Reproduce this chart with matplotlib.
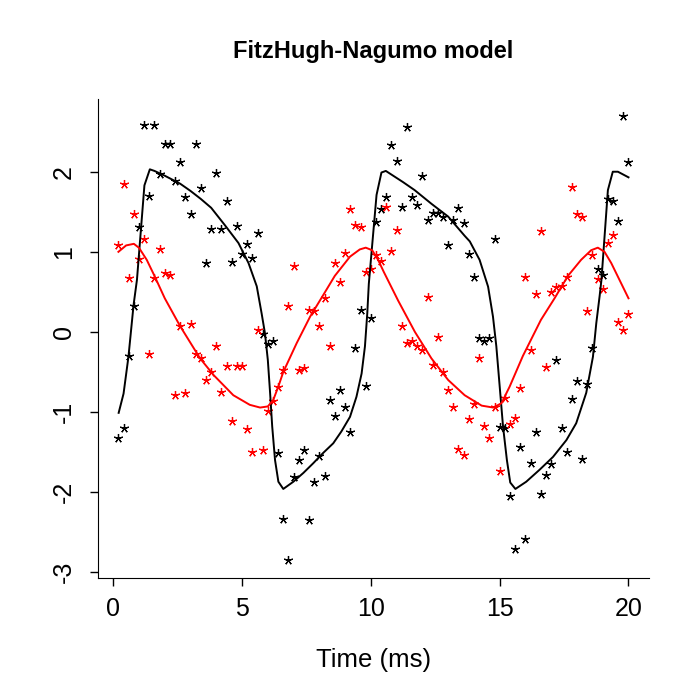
import numpy as np
import matplotlib
matplotlib.use("Agg")
import matplotlib.pyplot as plt

plt.rcParams['font.family'] = ['Liberation Sans', 'DejaVu Sans']
plt.rcParams['axes.unicode_minus'] = False

# observation times (ms)
t_obs = np.round(np.linspace(0.2, 20.0, 100), 1)

# noisy observations of V (black) and R (red)
V_obs = [-1.33, -1.20, -0.30, 0.33, 1.31, 2.58, 1.70, 2.58, 1.97, 2.35,
         2.35, 1.89, 2.12, 1.68, 1.47, 2.34, 1.80, 0.86, 1.29, 1.98,
         1.28, 1.64, 0.87, 1.32, 0.97, 1.10, 0.92, 1.24, -0.02, -0.15,
         -0.11, -1.51, -2.34, -2.85, -1.81, -1.60, -1.47, -2.35, -1.87, -1.55,
         -1.80, -0.85, -1.05, -0.72, -0.94, -1.25, -0.20, 0.28, -0.67, 0.18,
         1.37, 1.53, 1.68, 2.33, 2.13, 1.56, 2.56, 1.69, 1.59, 1.95,
         1.40, 1.49, 1.49, 1.44, 1.08, 1.40, 1.55, 1.36, 0.97, 0.68,
         -0.07, -0.11, -0.08, 1.16, -1.19, -1.20, -2.05, -2.71, -1.44, -2.59,
         -1.63, -1.25, -2.02, -1.78, -1.65, -0.35, -1.20, -1.50, -0.84, -0.61,
         -1.58, -0.65, -0.20, 0.78, 0.71, 1.66, 1.63, 1.39, 2.69, 2.12]

R_obs = [1.09, 1.85, 0.67, 1.47, 0.91, 1.16, -0.28, 0.67, 1.04, 0.74,
         0.71, -0.79, 0.07, -0.76, 0.10, -0.27, -0.33, -0.60, -0.50, -0.18,
         -0.75, -0.42, -1.11, -0.43, -0.42, -1.21, -1.50, 0.03, -1.48, -0.99,
         -0.86, -0.69, -0.47, 0.32, 0.82, -0.48, -0.45, 0.28, 0.26, 0.08,
         0.42, -0.18, 0.86, 0.62, 0.99, 1.53, 1.33, 1.31, 0.75, 0.78,
         0.96, 0.89, 1.56, 1.01, 1.27, 0.07, -0.14, -0.11, -0.17, -0.22,
         0.44, -0.41, -0.06, -0.50, -0.73, -0.94, -1.46, -1.54, -1.09, -0.90,
         -0.32, -1.18, -1.33, -0.94, -1.73, -0.83, -1.15, -1.08, -0.70, 0.69,
         -0.23, 0.47, 1.26, -0.44, 0.50, 0.56, 0.57, 0.68, 1.81, 1.47,
         1.43, 0.26, 0.96, 0.66, 0.54, 1.11, 1.21, 0.13, 0.02, 0.22]

# fitted trajectory of V
tV = [0.21, 0.40, 0.59, 0.79, 0.92, 1.21, 1.42, 1.60, 2.0, 2.6, 3.0, 3.4, 3.8,
      4.34, 4.86, 5.25, 5.57, 5.76, 5.89, 6.0, 6.09, 6.17, 6.28, 6.41, 6.6,
      6.99, 7.38, 7.76, 8.15, 8.54, 8.86, 9.19, 9.44, 9.64, 9.77, 9.86, 9.92,
      10.22, 10.41, 10.58, 11.25, 11.7, 12.35, 13.0, 13.64, 13.84, 14.22,
      14.55, 14.74, 14.87, 15.0, 15.13, 15.28, 15.41, 15.61, 16.03, 16.55,
      17.07, 17.59, 17.97, 18.36, 18.62, 18.75, 18.88, 18.95, 19.2, 19.39,
      19.59, 20.0]
V_fit = [-1.01, -0.77, -0.31, 0.34, 0.65, 1.83, 2.03, 2.01, 1.95, 1.85, 1.76, 1.66, 1.55,
         1.33, 1.11, 0.86, 0.57, 0.23, -0.02, -0.35, -0.77, -1.18, -1.60, -1.87, -1.96,
         -1.87, -1.76, -1.64, -1.51, -1.39, -1.24, -1.06, -0.81, -0.52, -0.18, 0.23, 0.60,
         1.71, 1.99, 2.01, 1.87, 1.77, 1.60, 1.44, 1.20, 1.13, 0.90,
         0.565, 0.19, -0.18, -0.68, -1.18, -1.60, -1.88, -1.96, -1.87, -1.72,
         -1.56, -1.35, -1.14, -0.76, -0.31, 0.11, 0.45, 0.65, 1.77, 2.00,
         2.00, 1.93]

# fitted trajectory of R
tR = [0.2, 0.5, 0.8, 1.0, 1.3, 1.6, 2.0, 2.6, 3.37, 3.9, 4.66, 5.3, 5.7, 6.0,
      6.21, 6.41, 6.6, 7.12, 7.64, 8.15, 8.6, 9.19, 9.57, 9.8, 10.05, 10.28,
      10.5, 11.06, 11.71, 12.35, 13.0, 13.64, 14.3, 14.75, 15.07, 15.39, 15.9,
      16.6, 17.13, 17.65, 18.16, 18.55, 18.81, 19.07, 19.33, 20.0]
R_fit = [1.00, 1.08, 1.10, 1.05, 0.90, 0.70, 0.42, 0.07, -0.33, -0.54, -0.79, -0.91, -0.944, -0.93,
         -0.85, -0.68, -0.50, -0.14, 0.19, 0.46, 0.70, 0.94, 1.03, 1.052, 1.02, 0.90,
         0.75, 0.39, 0.00, -0.33, -0.60, -0.79, -0.92, -0.944, -0.89, -0.68, -0.30,
         0.15, 0.42, 0.70, 0.90, 1.02, 1.052, 1.00, 0.86, 0.42]

fig = plt.figure(figsize=(7, 7), dpi=100)
ax = fig.add_axes([0.14, 0.1743, 0.787, 0.6847])

ax.plot(t_obs, V_obs, linestyle='none', marker=(5, 2, 0), ms=6.5, mew=0.9, color='black')
ax.plot(t_obs, R_obs, linestyle='none', marker=(5, 2, 0), ms=6.5, mew=0.9, color='red')
ax.plot(tV, V_fit, color='black', lw=1.4)
ax.plot(tR, R_fit, color='red', lw=1.4)

# R-style 4% padding
ymin = min(min(V_obs), min(R_obs))
ymax = max(max(V_obs), max(R_obs))
xr = t_obs.max() - t_obs.min()
yr = ymax - ymin
ax.set_xlim(t_obs.min() - 0.04 * xr, t_obs.max() + 0.04 * xr)
ax.set_ylim(ymin - 0.04 * yr, ymax + 0.04 * yr)

ax.spines['top'].set_visible(False)
ax.spines['right'].set_visible(False)
ax.set_xticks([0, 5, 10, 15, 20])
ax.set_yticks([-3, -2, -1, 0, 1, 2])
ax.set_yticklabels(['-3', '-2', '-1', '0', '1', '2'], rotation=90, va='center')
ax.tick_params(axis='both', direction='out', length=6, width=1, labelsize=18)
ax.tick_params(axis='x', pad=8)
ax.tick_params(axis='y', pad=10)

ax.set_xlabel('Time (ms)', fontsize=18.5, labelpad=19)
ax.set_title('FitzHugh-Nagumo model', fontsize=17, fontweight='bold', pad=29)

plt.savefig('out.png', dpi=100)
